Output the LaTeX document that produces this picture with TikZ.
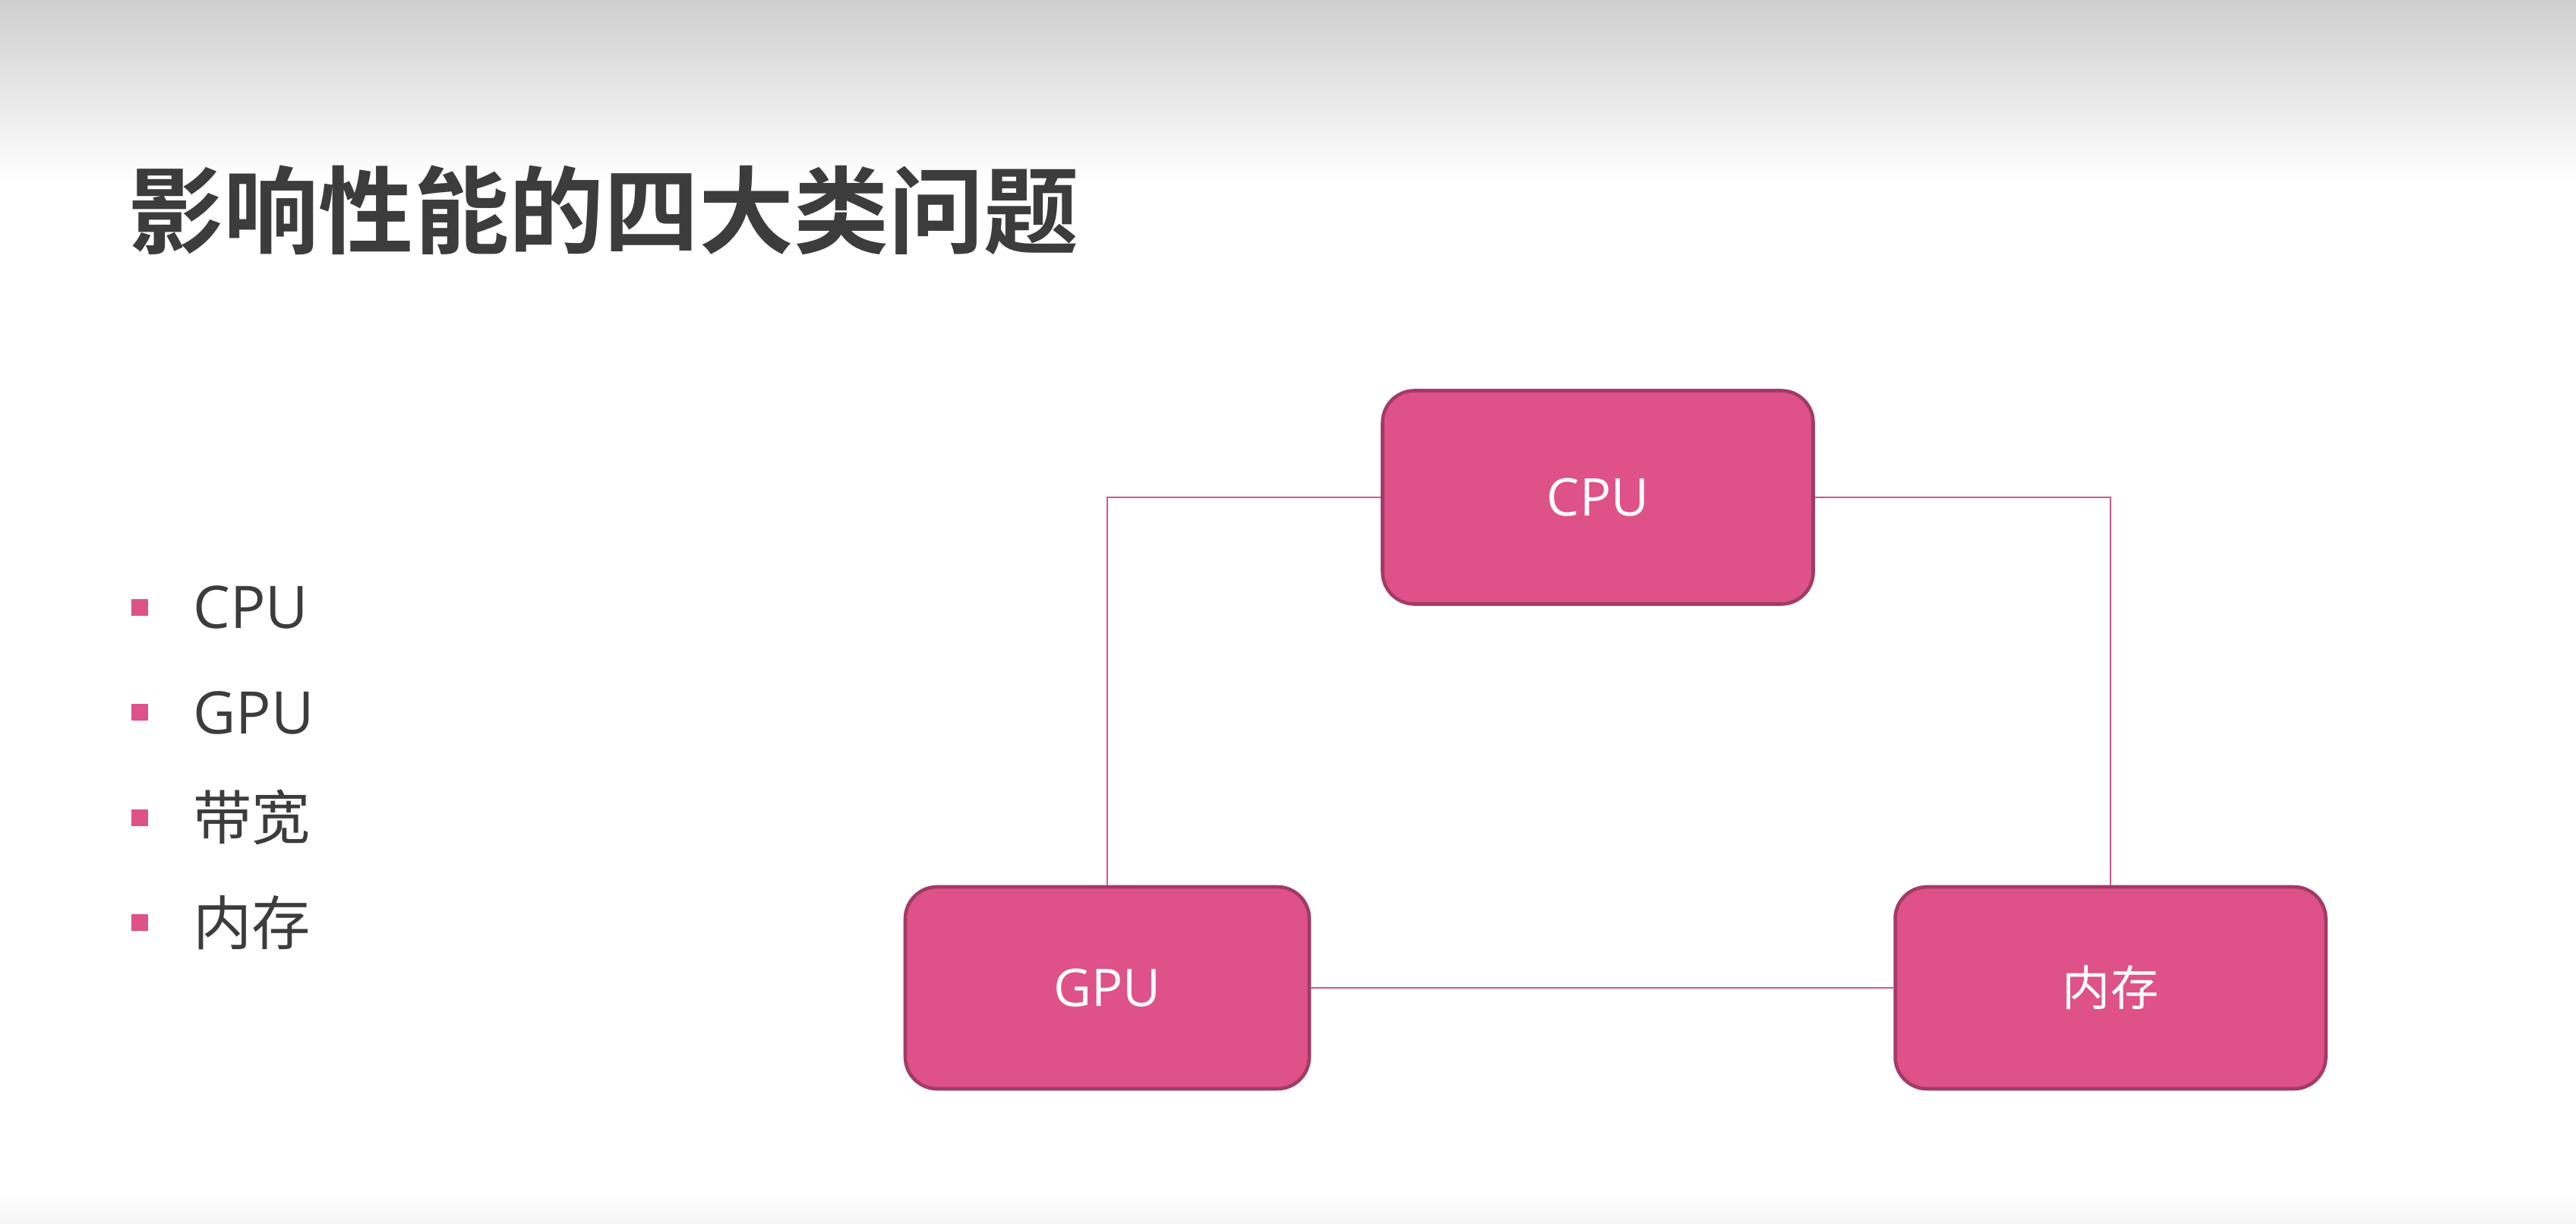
\documentclass[tikz,border=0pt]{standalone}
\usepackage{fontspec}
\setmainfont{Open Sans}
\setsansfont{Open Sans}
\newfontfamily\cjk[BoldFont={Noto Sans CJK SC Bold}]{Noto Sans CJK SC}
\usetikzlibrary{positioning}

\definecolor{boxpink}{HTML}{DE5189}
\definecolor{boxedge}{HTML}{A33A67}
\definecolor{linkpink}{HTML}{D2578A}
\definecolor{slidetext}{HTML}{3C3C3C}

\tikzset{
  unit/.style={draw=boxedge, line width=1.3pt, fill=boxpink, rounded corners=0.42cm,
    text=white, font=\fontsize{19.5}{22}\selectfont, inner sep=0pt},
  link/.style={draw=linkpink, line width=0.6pt},
  bullet/.style={fill=boxpink, minimum size=0.22cm, inner sep=0pt},
  item/.style={text=slidetext, font=\fontsize{22}{24}\selectfont, inner sep=0pt}
}

\begin{document}
\begin{tikzpicture}
    \useasboundingbox (0,0) rectangle (33.92,-16.12);
    \shade[top color=black!19, bottom color=white] (0,0) rectangle (33.92,-2.4);
    \shade[top color=white, bottom color=black!4] (0,-15.7) rectangle (33.92,-16.12);

    \node[anchor=west, inner sep=0pt, text=slidetext,
      font=\cjk\bfseries\fontsize{35.6}{40}\selectfont] (title) at (1.69,-2.77) {影响性能的四大类问题};

    % bullet list
    \node[bullet] (b1) at (1.84,-8.00) {};
    \node[bullet, below=1.15cm of b1] (b2) {};
    \node[bullet, below=1.15cm of b2] (b3) {};
    \node[bullet, below=1.15cm of b3] (b4) {};
    \node[item, right=0.58cm of b1] (i1) {CPU};
    \node[item, right=0.58cm of b2] (i2) {GPU};
    \node[item, right=0.58cm of b3] (i3) {\cjk 带宽};
    \node[item, right=0.58cm of b4] (i4) {\cjk 内存};

    % the three parts
    \node[unit, minimum width=5.67cm, minimum height=2.81cm] (cpu) at (21.04,-6.55) {CPU};
    \node[unit, minimum width=5.32cm, minimum height=2.66cm] (gpu) at (14.58,-13.01) {GPU};
    \node[unit, minimum width=5.67cm, minimum height=2.66cm] (mem) at (27.79,-13.01) {\cjk\fontsize{18}{20}\selectfont 内存};

    % Connect the nodes
    \draw[link] (cpu.west) -| (gpu.north);
    \draw[link] (cpu.east) -| (mem.north);
    \draw[link] (gpu.east) -- (mem.west);
\end{tikzpicture}
\end{document}
